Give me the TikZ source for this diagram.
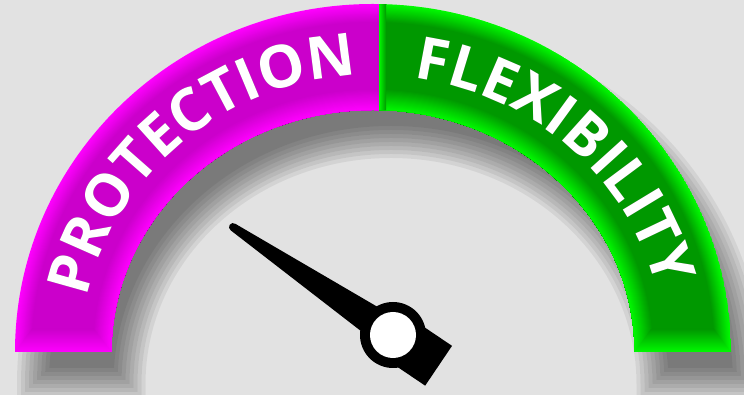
\documentclass[tikz,border=0pt]{standalone}
\usepackage{fontspec}
\newfontfamily\gaugefont{Open Sans}
\usetikzlibrary{decorations.text,calc}
\definecolor{backgray}{RGB}{226,226,226}
\definecolor{magbright}{RGB}{255,0,255}
\definecolor{magdark}{RGB}{203,0,203}
\definecolor{grnbright}{RGB}{0,250,0}
\definecolor{grndark}{RGB}{0,152,0}
\newcommand\gaugeband[1]{({15-(#1)},{43-(#1)}) -- ({15-(#1)},43) arc[start angle=180, end angle=0, x radius={358+(#1)}, y radius={348+(#1)}] -- ({731+(#1)},{43-(#1)}) -- ({634.5-(#1)},{43-(#1)}) -- ({634.5-(#1)},43) arc[start angle=0, end angle=180, x radius={261.5-(#1)}, y radius={242-(#1)}] -- ({111.5+(#1)},{43-(#1)}) -- cycle}

\begin{document}
\begin{tikzpicture}[
  x=1pt, y=1pt,
  gaugelabel/.style={
    decorate,
    decoration={text along path, text align=center,
      text={|\gaugefont\bfseries\fontsize{59}{66}\selectfont|#1}}
  },
  shadowlayer/.style={fill=black, opacity=0.062},
  needle/.style={fill=black}
]
  \useasboundingbox (0,0) rectangle (744,395);
  \fill[backgray] (0,0) rectangle (744,395);
  \coordinate (centre) at (373,43);
  \coordinate (hub) at (393,60);

  \begin{scope}[shift={(18,-32)}]
    \foreach \r in {-16,-12,...,16}{
      \begin{scope}
        \clip (-20,{43-\r}) rectangle (800,420);
        \path[shadowlayer] \gaugeband{\r};
      \end{scope}
    }
  \end{scope}

  \begin{scope}
    \clip \gaugeband{0};
    \clip (0,0) rectangle (379,395);
    \foreach \t [evaluate=\t as \p using {100*max(0,1-\t/0.17)+100*max(0,1-(1-\t)/0.2)}] in {0,0.01,...,1}
      \fill[magbright!\p!magdark] (centre) ellipse[x radius={358-96.5*\t}, y radius={348-106*\t}];
    \shade[top color=magdark, bottom color=magbright] (15,43) -- (111.5,43) -- (94,66) -- (32,66) -- cycle;
  \end{scope}

  \begin{scope}
    \clip \gaugeband{0};
    \clip (379,0) rectangle (744,395);
    \foreach \t [evaluate=\t as \p using {100*max(0,1-\t/0.17)+100*max(0,1-(1-\t)/0.2)}] in {0,0.01,...,1}
      \fill[grnbright!\p!grndark] (centre) ellipse[x radius={358-96.5*\t}, y radius={348-106*\t}];
    \shade[top color=grndark, bottom color=grnbright] (634.5,43) -- (731,43) -- (714,66) -- (651,66) -- cycle;
    \shade[left color=grnbright, right color=grndark] (379,280) rectangle (386,395);
  \end{scope}

  \begin{scope}[opacity=0.45, shift={(2,-3)}]
    \path[gaugelabel=PROTECTION, decoration={text color=black}]
      (centre) ++(172:291 and 277) arc[start angle=172, end angle=90, x radius=291, y radius=277];
    \path[gaugelabel=FLEXIBILITY, decoration={text color=black}]
      (centre) ++(88:291 and 277) arc[start angle=88, end angle=7, x radius=291, y radius=277];
  \end{scope}
  \path[gaugelabel=PROTECTION, decoration={text color=white}]
    (centre) ++(172:291 and 277) arc[start angle=172, end angle=90, x radius=291, y radius=277];
  \path[gaugelabel=FLEXIBILITY, decoration={text color=white}]
    (centre) ++(88:291 and 277) arc[start angle=88, end angle=7, x radius=291, y radius=277];

  \begin{scope}[shift={(hub)}, rotate=146]
    \fill[needle] (-55,-24) rectangle (0,24);
    \fill[needle] (0,-16.5) -- (193,-4) arc[start angle=-90, end angle=90, radius=4] -- (0,16.5) -- cycle;
    \fill[needle] (0,0) circle (33);
    \fill[white] (0,0) circle (23);
  \end{scope}
\end{tikzpicture}
\end{document}
